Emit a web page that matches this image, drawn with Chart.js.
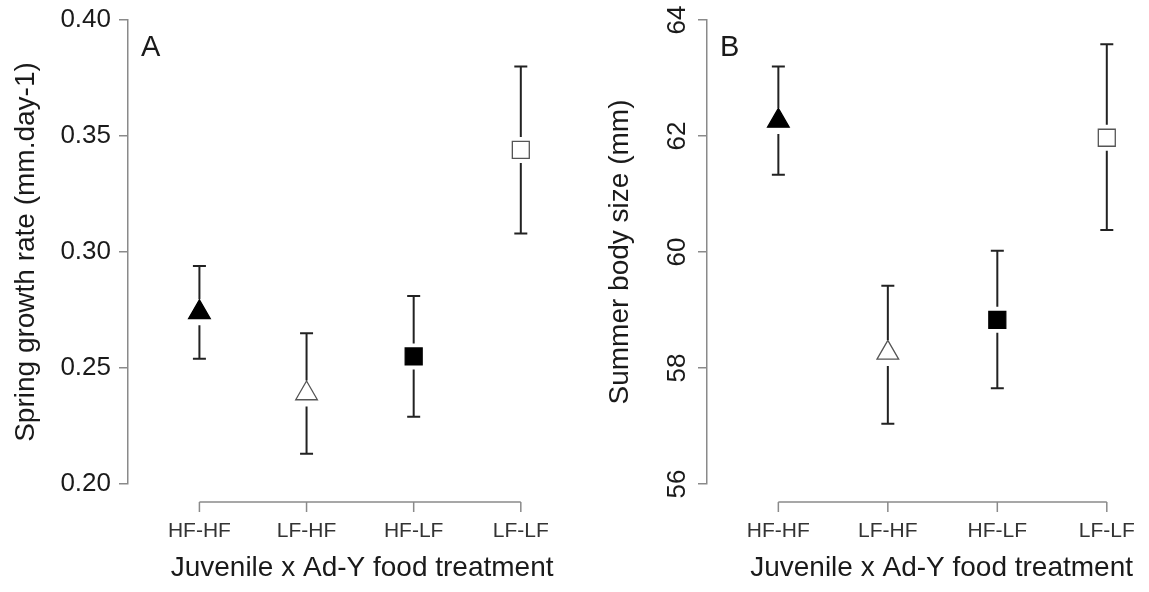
<!DOCTYPE html>
<html>
<head>
<meta charset="utf-8">
<script src="https://cdn.jsdelivr.net/npm/chart.js@4.4.0/dist/chart.umd.min.js"></script>
<style>
  html, body { margin: 0; padding: 0; background: #fff; overflow: hidden; }
  body { width: 1149px; height: 592px; position: relative; }
  #panelA { position: absolute; left: 0; top: 0; }
  #panelB { position: absolute; left: 580px; top: 0; }
</style>
</head>
<body>
<canvas id="panelA" width="610" height="592"></canvas>
<canvas id="panelB" width="610" height="592"></canvas>
<script>
// categories on the x axis
const categories = ["HF-HF", "LF-HF", "HF-LF", "LF-LF"];
const catPos = [1, 2, 3, 4];

// panel A - spring growth rate
const growthMean = [0.274, 0.239, 0.255, 0.344];
const growthUpper = [0.294, 0.265, 0.281, 0.380];
const growthLower = [0.254, 0.213, 0.229, 0.308];
const growthTicks = [0.20, 0.25, 0.30, 0.35, 0.40];

// panel B - summer body size
const sizeMean = [62.26, 58.26, 58.83, 61.97];
const sizeUpper = [63.20, 59.42, 60.02, 63.58];
const sizeLower = [61.33, 57.04, 57.65, 60.38];
const sizeTicks = [56, 58, 60, 62, 64];

const FONT = "'Liberation Sans', Arial, sans-serif";
const AXIS_GRAY = "#8a8a8a";
const TEXT = "#1a1a1a";

// marker look per treatment
const markerStyle = ["triangle", "triangle", "rect", "rect"];
const markerFill = ["#000", "#fff", "#000", "#fff"];
const markerLine = ["#000", "#555", "#000", "#555"];
const markerRadius = [12.5, 12.5, 12, 12];

// error bars, R style x axis, panel letter, rotated y labels
function extrasPlugin(p) {
  return {
    id: "extras",
    afterDatasetsDraw(chart) {
      const ctx = chart.ctx;
      const xs = chart.scales.x;
      const ys = chart.scales.y;
      const area = chart.chartArea;
      ctx.save();

      // error bars
      ctx.strokeStyle = "#222";
      ctx.lineWidth = 2;
      p.mean.forEach((m, i) => {
        const px = xs.getPixelForValue(catPos[i]);
        const pm = ys.getPixelForValue(m);
        const pu = ys.getPixelForValue(p.upper[i]);
        const pl = ys.getPixelForValue(p.lower[i]);
        ctx.beginPath();
        ctx.moveTo(px, pu); ctx.lineTo(px, pm - 13);
        ctx.moveTo(px, pm + 13); ctx.lineTo(px, pl);
        ctx.moveTo(px - 6.5, pu); ctx.lineTo(px + 6.5, pu);
        ctx.moveTo(px - 6.5, pl); ctx.lineTo(px + 6.5, pl);
        ctx.stroke();
      });

      // x axis sits below the plot, from first to last category
      const y0 = area.bottom + 18;
      const first = xs.getPixelForValue(catPos[0]);
      const last = xs.getPixelForValue(catPos[catPos.length - 1]);
      ctx.strokeStyle = AXIS_GRAY;
      ctx.lineWidth = 1.5;
      ctx.beginPath();
      ctx.moveTo(first, y0); ctx.lineTo(last, y0);
      catPos.forEach((c) => {
        const px = xs.getPixelForValue(c);
        ctx.moveTo(px, y0); ctx.lineTo(px, y0 + 10);
      });
      ctx.stroke();

      // panel letter
      ctx.fillStyle = TEXT;
      ctx.font = "29px " + FONT;
      ctx.textAlign = "left";
      ctx.textBaseline = "alphabetic";
      ctx.fillText(p.letter, area.left + p.letterDx, area.top + 36);

      // rotated tick labels (panel B)
      if (p.rotTicks) {
        ctx.font = "26px " + FONT;
        ctx.textAlign = "center";
        ctx.textBaseline = "middle";
        p.rotTicks.forEach((v) => {
          ctx.save();
          ctx.translate(area.left - 29, ys.getPixelForValue(v));
          ctx.rotate(-Math.PI / 2);
          ctx.fillText(String(v), 0, 0);
          ctx.restore();
        });
      }
      ctx.restore();
    }
  };
}

function makePanel(id, p) {
  const points = p.mean.map((m, i) => ({ x: catPos[i], y: m }));
  new Chart(document.getElementById(id), {
    type: "scatter",
    data: {
      datasets: [{
        data: points,
        pointStyle: markerStyle,
        pointRadius: markerRadius,
        backgroundColor: markerFill,
        borderColor: markerLine,
        borderWidth: 1.3
      }]
    },
    options: {
      responsive: false,
      animation: false,
      layout: { padding: { top: 20, left: 0, right: p.padRight, bottom: 0 } },
      plugins: { legend: { display: false }, tooltip: { enabled: false } },
      scales: {
        x: {
          type: "linear",
          min: p.xMin,
          max: p.xMax,
          afterBuildTicks: (s) => { s.ticks = catPos.map((v) => ({ value: v })); },
          afterFit: (s) => { s.height = 108; s.paddingLeft = 0; s.paddingRight = 0; },
          border: { display: false },
          grid: { display: false, drawTicks: false },
          ticks: {
            padding: 35,
            color: "#333",
            font: { family: FONT, size: 21 },
            callback: (v) => categories[v - 1]
          },
          title: {
            display: true,
            text: "Juvenile x Ad-Y food treatment",
            color: TEXT,
            font: { family: FONT, size: 28 },
            padding: { top: 0, bottom: 7 }
          }
        },
        y: {
          min: p.yMin,
          max: p.yMax,
          afterBuildTicks: (s) => { s.ticks = p.ticks.map((v) => ({ value: v })); },
          afterFit: (s) => { s.width = p.yWidth; s.paddingTop = 0; s.paddingBottom = 0; },
          border: { display: true, color: AXIS_GRAY, width: 1.5 },
          grid: { display: true, drawOnChartArea: false, drawTicks: true, tickLength: 9, color: AXIS_GRAY, lineWidth: 1.5 },
          ticks: {
            display: !p.rotTicks,
            padding: 8,
            color: TEXT,
            font: { family: FONT, size: 26 },
            callback: (v) => v.toFixed(2)
          },
          title: {
            display: true,
            text: p.yTitle,
            color: TEXT,
            font: { family: FONT, size: 28 },
            padding: { top: p.titlePad, bottom: 0 }
          }
        }
      }
    },
    plugins: [extrasPlugin(p)]
  });
}

makePanel("panelA", {
  mean: growthMean, upper: growthUpper, lower: growthLower, ticks: growthTicks,
  yMin: 0.2, yMax: 0.4, xMin: 1 - 72 / 108, xMax: 1 - 72 / 108 + 472 / 108,
  yWidth: 128, padRight: 10, titlePad: 9, letter: "A", letterDx: 13,
  yTitle: "Spring growth rate (mm.day-1)", rotTicks: null
});

makePanel("panelB", {
  mean: sizeMean, upper: sizeUpper, lower: sizeLower, ticks: sizeTicks,
  yMin: 56, yMax: 64, xMin: 1 - 73 / 112, xMax: 1 - 73 / 112 + 480 / 112,
  yWidth: 127, padRight: 3, titlePad: 23, letter: "B", letterDx: 13,
  yTitle: "Summer body size (mm)", rotTicks: sizeTicks
});
</script>
</body>
</html>
